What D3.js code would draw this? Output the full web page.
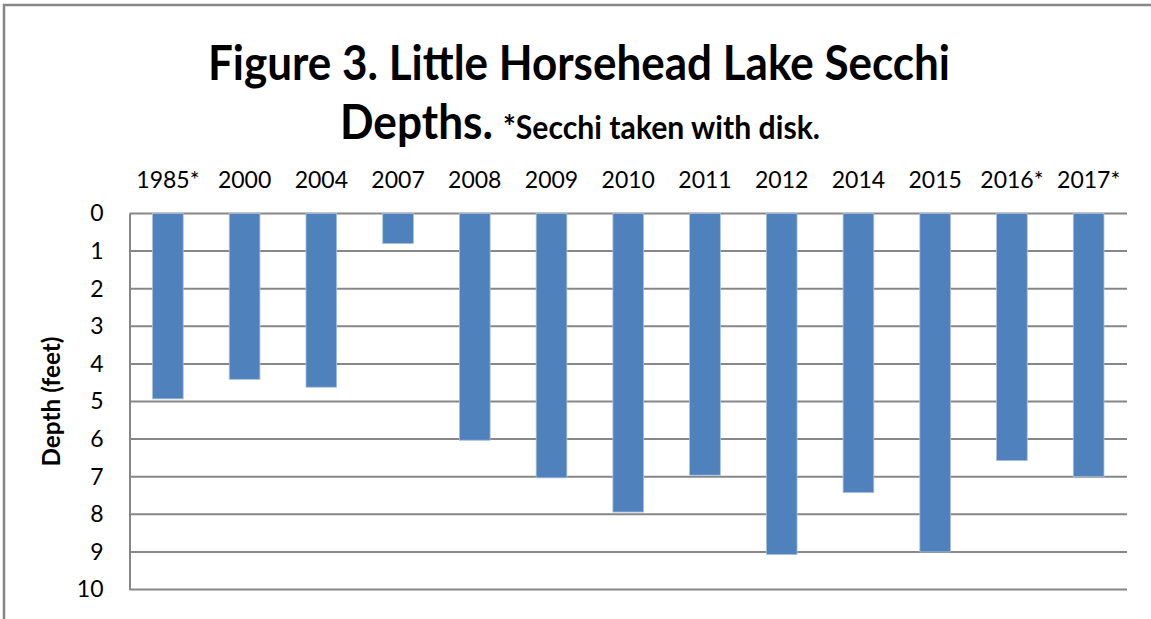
<!DOCTYPE html>
<html>
<head>
<meta charset="utf-8">
<script src="https://cdn.jsdelivr.net/npm/d3@7"></script>
<style>
  html, body { margin: 0; padding: 0; background: #fff; }
  svg { display: block; font-family: Lato, "Open Sans", sans-serif; }
</style>
</head>
<body>
<div id="container"></div>
<script>
const years = ['1985*', '2000', '2004', '2007', '2008', '2009', '2010', '2011', '2012', '2014', '2015', '2016*', '2017*'];
const depths = [4.93, 4.41, 4.62, 0.8, 6.03, 7.03, 7.94, 6.96, 9.07, 7.42, 9.0, 6.57, 7.0];
const depthTicks = [0, 1, 2, 3, 4, 5, 6, 7, 8, 9, 10];

const width = 1151;
const height = 619;
const margin = {top: 213.5, right: 24, bottom: 29.5, left: 129.5};

const svg = d3.select('#container').append('svg')
  .attr('width', width)
  .attr('height', height);

// chart border, runs off the right and bottom like the original
svg.append('rect')
  .attr('x', 4)
  .attr('y', 5)
  .attr('width', width + 20)
  .attr('height', height + 20)
  .attr('fill', 'none')
  .attr('stroke', '#878787')
  .attr('stroke-width', 2.5);

const x = d3.scaleBand()
  .domain(years)
  .range([margin.left, width - margin.right])
  .paddingInner(0.6)
  .paddingOuter(0.3);

const y = d3.scaleLinear()
  .domain([0, 10])
  .range([margin.top, height - margin.bottom]);

// horizontal gridlines
svg.append('g')
  .selectAll('line')
  .data(depthTicks)
  .join('line')
  .attr('x1', margin.left)
  .attr('x2', width - margin.right)
  .attr('y1', d => y(d))
  .attr('y2', d => y(d))
  .attr('stroke', '#878787')
  .attr('stroke-width', 2);

// bars hang down from 0
svg.append('g')
  .selectAll('rect')
  .data(depths)
  .join('rect')
  .attr('x', (d, i) => x(years[i]))
  .attr('y', y(0))
  .attr('width', x.bandwidth())
  .attr('height', d => y(d) - y(0))
  .attr('fill', '#4f81bd')
  .attr('stroke', '#a9c0de')
  .attr('stroke-width', 0.8);

// left axis
const yAxis = svg.append('g')
  .attr('transform', `translate(${margin.left},0)`)
  .call(d3.axisLeft(y).tickValues(depthTicks).tickSize(0).tickPadding(26));
yAxis.select('.domain').attr('stroke', '#878787').attr('stroke-width', 2);
yAxis.selectAll('text')
  .attr('font-size', 23)
  .attr('font-family', 'Lato, sans-serif')
  .attr('fill', '#000');

// category labels on top
const xAxis = svg.append('g')
  .attr('transform', `translate(0,${margin.top})`)
  .call(d3.axisTop(x).tickSize(0).tickPadding(26));
xAxis.select('.domain').remove();
xAxis.selectAll('text')
  .attr('font-size', 23)
  .attr('font-family', 'Lato, sans-serif')
  .attr('fill', '#000');

// y axis title
svg.append('text')
  .attr('transform', `translate(60,${(y(0) + y(10)) / 2}) rotate(-90)`)
  .attr('text-anchor', 'middle')
  .style('font-size', '24px')
  .style('font-weight', 'bold')
  .attr('textLength', 130)
  .attr('lengthAdjust', 'spacingAndGlyphs')
  .text('Depth (feet)');

// title
svg.append('text')
  .attr('x', 208)
  .attr('y', 80)
  .style('font-size', '48px')
  .style('font-weight', 'bold')
  .attr('textLength', 742)
  .attr('lengthAdjust', 'spacingAndGlyphs')
  .text('Figure 3. Little Horsehead Lake Secchi');

svg.append('text')
  .attr('x', 340)
  .attr('y', 139)
  .style('font-size', '48px')
  .style('font-weight', 'bold')
  .attr('textLength', 153)
  .attr('lengthAdjust', 'spacingAndGlyphs')
  .text('Depths.');

svg.append('text')
  .attr('x', 503)
  .attr('y', 139)
  .style('font-size', '32px')
  .style('font-weight', 'bold')
  .attr('textLength', 317)
  .attr('lengthAdjust', 'spacingAndGlyphs')
  .text('*Secchi taken with disk.');
</script>
</body>
</html>
